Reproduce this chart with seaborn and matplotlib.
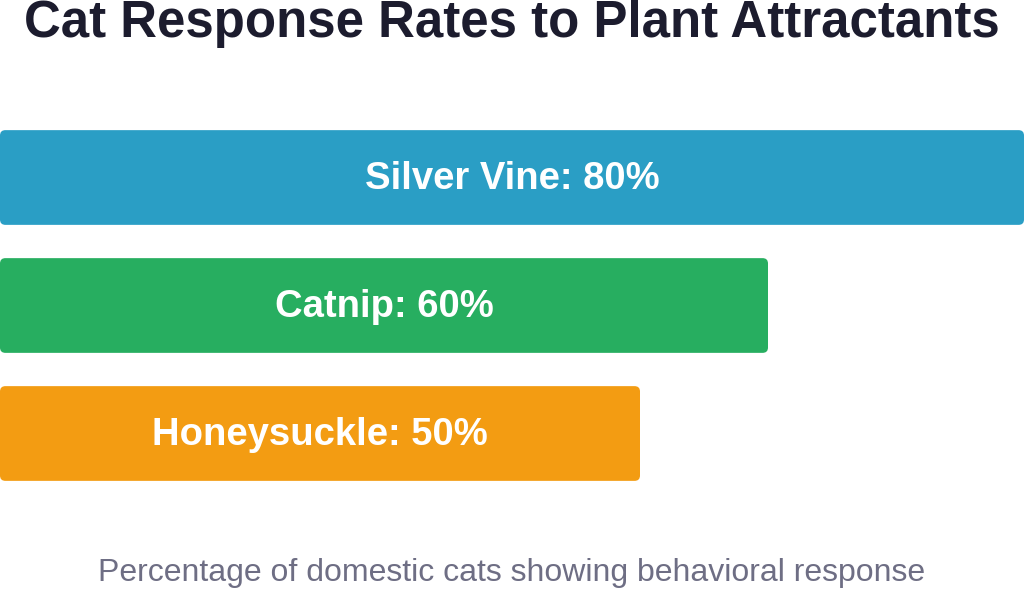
import numpy as np
import pandas as pd
import matplotlib
matplotlib.use('Agg')
import matplotlib.pyplot as plt
import seaborn as sns
from matplotlib.patches import FancyBboxPatch

sns.set_theme(style='white')
plt.rcParams['font.family'] = ['Liberation Sans', 'DejaVu Sans']

# data
plants = ['Silver Vine', 'Catnip', 'Honeysuckle']
response_pct = [80, 60, 50]
bar_colors = ['#2a9ec5', '#27ae60', '#f39c12']

title = 'Cat Response Rates to Plant Attractants'
subtitle = 'Percentage of domestic cats showing behavioral response'

df = pd.DataFrame({'Plant': plants, 'Response': response_pct})

fig = plt.figure(figsize=(10.24, 5.9), dpi=100)
ax = fig.add_axes([0, 0, 1, 1])

sns.barplot(data=df, x='Response', y='Plant', hue='Plant', palette=bar_colors,
            orient='h', width=0.74, saturation=1, legend=False, ax=ax)

ax.set_xlim(0, 80)
ax.set_ylim((590 - 177.5) / 128, -177.5 / 128)
ax.axis('off')

# swap plain bars for rounded ones
for patch in list(ax.patches):
    x0, y0 = patch.get_x(), patch.get_y()
    w, h = patch.get_width(), patch.get_height()
    rb = FancyBboxPatch((x0, y0), w, h,
                        boxstyle='round,pad=0,rounding_size=0.42',
                        mutation_aspect=0.1,
                        facecolor=patch.get_facecolor(), edgecolor='none')
    patch.remove()
    ax.add_patch(rb)
    i = int(round(y0 + h / 2))
    ax.text(w / 2, y0 + h / 2 + 0.01, f'{plants[i]}: {response_pct[i]}%',
            ha='center', va='center', color='white', fontsize=27.5,
            fontweight='bold')

fig.text(0.5, 1 - 24 / 590, title, ha='center', va='center',
         fontsize=36.7, fontweight='bold', color='#1c1c2e')
fig.text(0.5, 1 - 573 / 590, subtitle, ha='center', va='center',
         fontsize=23, color='#6e6e84')

fig.savefig('out.png', dpi=100)
